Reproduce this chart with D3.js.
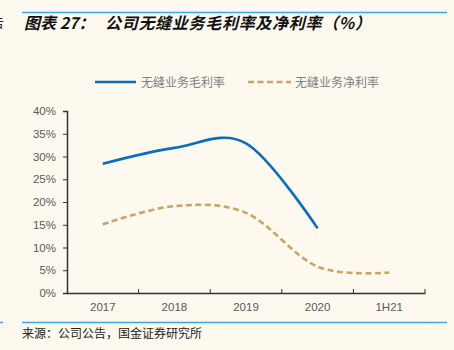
<!DOCTYPE html>
<html>
<head>
<meta charset="utf-8">
<script src="https://cdn.jsdelivr.net/npm/d3@7"></script>
<style>
  body { margin: 0; background: #fdf9ef; }
  svg { display: block; }
  text { font-family: "Liberation Sans", Arial, sans-serif; }
  .cjk { font-family: "Noto Sans CJK SC", sans-serif; }
</style>
</head>
<body>
<svg id="chart"></svg>
<script>
const categories = ["2017", "2018", "2019", "2020", "1H21"];
const grossMargin = [28.4, 31.9, 32.9, 14.2, null];
const netMargin = [15.1, 19.1, 17.6, 5.8, 4.5];
const yTicks = [0, 5, 10, 15, 20, 25, 30, 35, 40];
const seriesNames = ["无缝业务毛利率", "无缝业务净利率"];

const W = 454, H = 350;
const margin = { top: 111, left: 67, right: 29, bottom: 57 };
const width = W - margin.left - margin.right;
const height = H - margin.top - margin.bottom;

const svg = d3.select("#chart").attr("width", W).attr("height", H);

// frame lines
svg.append("line").attr("x1", 22).attr("x2", 447).attr("y1", 12.5).attr("y2", 12.5)
  .attr("stroke", "#3aa8e4").attr("stroke-width", 1.5);
svg.append("line").attr("x1", 22).attr("x2", 447).attr("y1", 322.5).attr("y2", 322.5)
  .attr("stroke", "#3aa8e4").attr("stroke-width", 1.5);
svg.append("line").attr("x1", 0).attr("x2", 3).attr("y1", 322.5).attr("y2", 322.5)
  .attr("stroke", "#3aa8e4").attr("stroke-width", 1.5);
svg.append("text").attr("class", "cjk").attr("x", -9).attr("y", 27)
  .attr("font-size", 13).attr("fill", "#222").text("告");

// title
const title = svg.append("text").attr("class", "cjk").attr("y", 29)
  .attr("font-size", 16).attr("font-weight", "bold").attr("font-style", "italic")
  .attr("fill", "#111");
title.append("tspan").attr("x", 24).text("图表 27：");
title.append("tspan").attr("x", 105).attr("textLength", 266).text("公司无缝业务毛利率及净利率（%）");

// source
svg.append("text").attr("class", "cjk").attr("x", 22).attr("y", 338)
  .attr("font-size", 12).attr("fill", "#222").text("来源：公司公告，国金证券研究所");

const g = svg.append("g").attr("transform", `translate(${margin.left},${margin.top})`);

const x = d3.scaleBand().domain(categories).range([0, width]);
const y = d3.scaleLinear().domain([0, 40]).range([height, 0]);

// y axis
const yAxis = g.append("g")
  .call(d3.axisLeft(y).tickValues(yTicks).tickSize(4).tickFormat(d => d + "%"));
yAxis.select(".domain").attr("stroke", "#333").attr("stroke-width", 1.5);
yAxis.selectAll(".tick line").attr("stroke", "#333");
yAxis.selectAll(".tick text").attr("x", -11).attr("fill", "#595959").attr("font-size", 11.5)
  .attr("font-family", "Liberation Sans, Arial, sans-serif");

// x axis
const xAxis = g.append("g").attr("transform", `translate(0,${height})`)
  .call(d3.axisBottom(x).tickSize(0).tickPadding(10));
xAxis.select(".domain").attr("stroke", "#333").attr("stroke-width", 1.5);
xAxis.selectAll(".tick text").attr("fill", "#595959").attr("font-size", 11.5)
  .attr("font-family", "Liberation Sans, Arial, sans-serif");
// tick marks between categories
xAxis.selectAll(".sep").data(categories).join("line")
  .attr("x1", d => x(d) + x.bandwidth()).attr("x2", d => x(d) + x.bandwidth())
  .attr("y1", 0).attr("y2", -4).attr("stroke", "#333");

const cx = (d, i) => x(categories[i]) + x.bandwidth() / 2;
const line = d3.line()
  .defined(d => d != null)
  .x(cx)
  .y(d => y(d))
  .curve(d3.curveCardinal.tension(0));

g.append("path").datum(grossMargin)
  .attr("fill", "none").attr("stroke", "#0a6ebd").attr("stroke-width", 2.6)
  .attr("d", line);

g.append("path").datum(netMargin)
  .attr("fill", "none").attr("stroke", "#c8a465").attr("stroke-width", 2.6)
  .attr("stroke-dasharray", "6,3.5")
  .attr("d", line);

// legend
const legend = svg.append("g");
legend.append("line").attr("x1", 95).attr("x2", 136).attr("y1", 82).attr("y2", 82)
  .attr("stroke", "#0a6ebd").attr("stroke-width", 2.6);
legend.append("text").attr("class", "cjk").attr("x", 141).attr("y", 86.5)
  .attr("font-size", 12).attr("fill", "#808080").text(seriesNames[0]);
legend.append("line").attr("x1", 248).attr("x2", 291).attr("y1", 82).attr("y2", 82)
  .attr("stroke", "#c8a465").attr("stroke-width", 2.6).attr("stroke-dasharray", "6,3.5");
legend.append("text").attr("class", "cjk").attr("x", 295).attr("y", 86.5)
  .attr("font-size", 12).attr("fill", "#808080").text(seriesNames[1]);
</script>
</body>
</html>
